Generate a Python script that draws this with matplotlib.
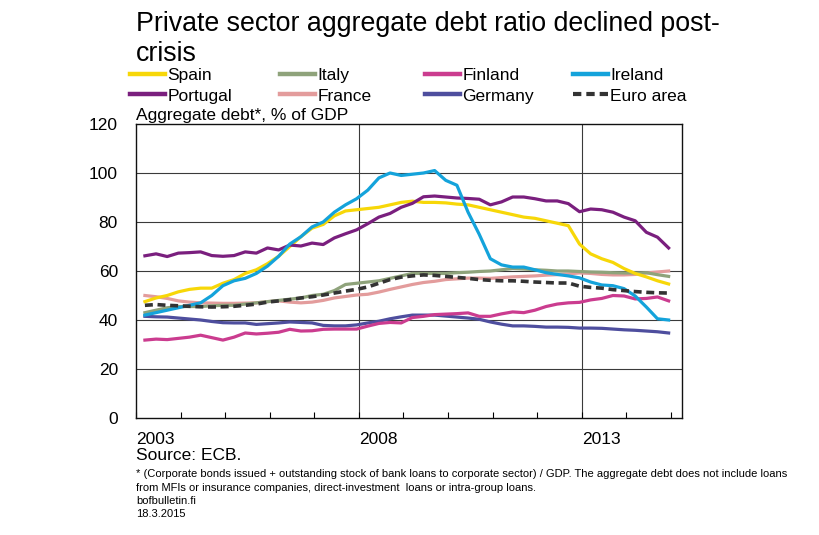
import matplotlib
matplotlib.use("Agg")
import matplotlib.pyplot as plt
from matplotlib.lines import Line2D
import numpy as np

# quarterly observations 2003Q1 .. 2014Q4 (plotted at positions within each quarter)
start_year = 2003.2
n_q = 48
x = start_year + 0.25 * np.arange(n_q)

spain = [47.5, 49, 50, 51.5, 52.5, 53, 53, 55, 56.5, 59, 60.5, 63, 66, 70, 74, 77.5,
         79, 82.5, 84.5, 85, 85.5, 86, 87, 88, 88.5, 88, 88, 87.8, 87.3, 87, 86, 85,
         84, 83, 82, 81.5, 80.5, 79.5, 78.5, 71, 67, 65, 63.5, 61, 59, 57.6, 56, 54.7]
italy = [43, 44, 45, 45.5, 45.5, 45.5, 45.8, 46, 46, 46.5, 47, 47.5, 48, 48.5, 49, 50,
         50.5, 52, 54.5, 55, 55.5, 56, 57, 58, 59, 59, 59, 59, 59.3, 59.5, 59.8, 60,
         60.5, 61, 60.8, 60.5, 60.3, 60, 60, 59.8, 59.6, 59.5, 59.3, 59.2, 59.2, 59.3, 58.5, 57.8]
finland = [31.8, 32.2, 32, 32.5, 33, 33.8, 32.8, 31.8, 33, 34.7, 34.3, 34.6, 35, 36.2, 35.5, 35.6,
           36.2, 36.3, 36.3, 36.3, 37.5, 38.6, 39, 38.8, 41, 41.5, 42.2, 42.4, 42.6, 42.9, 41.5, 41.5,
           42.5, 43.3, 43, 44, 45.5, 46.5, 47, 47.2, 48.2, 48.8, 50, 49.8, 48.6, 48.8, 49.4, 47.8]
ireland = [42, 43, 44, 45, 46, 47, 50, 54, 56, 57, 59, 62, 66, 71, 74, 78,
           80, 84, 87, 89.5, 93, 98, 100, 99, 99.5, 100, 101, 97, 95, 84, 75, 65,
           62.5, 61.6, 61.6, 60.5, 59.3, 58.6, 58, 57.2, 55.5, 54.3, 54, 52.8, 49.8, 45.3, 40.5, 40]
portugal = [66.2, 67, 65.9, 67.3, 67.5, 67.8, 66.3, 66, 66.3, 67.8, 67.3, 69.4, 68.6, 70.6, 70.2, 71.4,
            70.8, 73.5, 75.2, 76.8, 79.3, 82, 83.5, 86, 87.6, 90.3, 90.6, 90.2, 89.8, 89.6, 89.3, 87,
            88.2, 90.2, 90.2, 89.5, 88.6, 88.6, 87.5, 84.2, 85.3, 85, 84, 82, 80.5, 75.8, 73.8, 69.4]
france = [50, 49.5, 48.8, 47.8, 47.3, 47, 46.9, 46.8, 46.8, 46.9, 47, 47.5, 47.8, 47.3, 47, 47.3,
          48, 49, 49.6, 50.2, 50.5, 51.4, 52.5, 53.5, 54.5, 55.3, 55.8, 56.5, 56.8, 57.1, 57.1, 57,
          57.3, 57.6, 57.8, 58, 58.3, 58.5, 58.8, 59.2, 59, 58.6, 58.4, 58.4, 58.6, 59.2, 59.6, 60]
germany = [41.5, 41.3, 41.2, 40.8, 40.4, 40, 39.4, 38.9, 38.8, 38.8, 38.2, 38.5, 38.8, 39.2, 39, 38.8,
           37.8, 37.6, 37.6, 38, 38.8, 39.5, 40.5, 41.3, 42, 42, 42, 41.6, 41.2, 40.8, 40.3, 39.2,
           38.3, 37.6, 37.6, 37.4, 37.1, 37.1, 37, 36.7, 36.7, 36.6, 36.3, 36, 35.8, 35.5, 35.2, 34.7]
euro = [46, 46.3, 46, 45.8, 45.6, 45.4, 45.3, 45.4, 45.6, 46, 46.5, 47.3, 47.8, 48.3, 49, 49.5,
        50.2, 51, 51.8, 52.5, 53.5, 55, 56.5, 57.5, 58, 58.4, 58.2, 57.8, 57.4, 57, 56.5, 56.2,
        56, 56, 55.8, 55.5, 55.3, 55.1, 55.1, 53.8, 53.3, 53, 52.4, 52, 51.6, 51.3, 51.1, 51]

year_ticks = list(range(2003, 2016))
year_labels = ["2003", "", "", "", "", "2008", "", "", "", "", "2013", "", ""]
grid_years = [2008, 2013]
y_ticks = [0, 20, 40, 60, 80, 100, 120]

series = [
    ("Spain", spain, "#F7D708", "-"),
    ("Italy", italy, "#8FA37B", "-"),
    ("Finland", finland, "#CB3C8F", "-"),
    ("Ireland", ireland, "#14A3DB", "-"),
    ("Portugal", portugal, "#7A1F7E", "-"),
    ("France", france, "#E39C9C", "-"),
    ("Germany", germany, "#4E4E9E", "-"),
    ("Euro area", euro, "#333333", "--"),
]

plt.rcParams["font.family"] = ["Liberation Sans", "DejaVu Sans"]

fig = plt.figure(figsize=(8.2, 5.35), dpi=100)
fig.patch.set_facecolor("white")
ax = fig.add_axes([136 / 820, 117 / 535, 546 / 820, 294 / 535])

lookup = {s[0]: s for s in series}
order = ["France", "Germany", "Finland", "Italy", "Euro area", "Spain", "Portugal", "Ireland"]
for name in order:
    nm, vals, col, ls = lookup[name]
    if ls == "--":
        ax.plot(x, vals, color=col, lw=2.6, ls=(0, (2.2, 1.3)), solid_capstyle="butt", zorder=4)
    else:
        ax.plot(x, vals, color=col, lw=2.3, zorder=3)

ax.set_xlim(2003, 2015.25)
ax.set_ylim(0, 120)
ax.set_yticks(y_ticks)
ax.set_yticklabels([str(v) for v in y_ticks])
ax.set_xticks(year_ticks)
ax.set_xticklabels(year_labels, ha="left")
ax.tick_params(axis="y", length=0, pad=13, labelsize=12.5)
ax.tick_params(axis="x", direction="in", length=4, width=0.8, pad=10, labelsize=12.5)
for v in y_ticks[1:-1]:
    ax.axhline(v, color="#3a3a3a", lw=0.8, zorder=1)
for g in grid_years:
    ax.axvline(g, color="#3a3a3a", lw=0.8, zorder=1)
for sp in ax.spines.values():
    sp.set_color("#111111")
    sp.set_linewidth(1.0)

# title
fig.text(136 / 820, 1 - 11 / 535, "Private sector aggregate debt ratio declined post-\ncrisis",
         fontsize=19.3, va="top", ha="left", linespacing=1.2)

# legend in four columns
col_x = [130, 280, 425, 573]
legend_order = ["Spain", "Portugal", "Italy", "France", "Finland", "Germany", "Ireland", "Euro area"]
for c in range(4):
    names = legend_order[2 * c:2 * c + 2]
    handles = []
    for nm in names:
        _, _, col, ls = lookup[nm]
        if ls == "--":
            handles.append(Line2D([], [], color=col, lw=3.0, ls=(0, (2.0, 1.2))))
        else:
            handles.append(Line2D([], [], color=col, lw=3.2))
    fig.legend(handles, names, loc="upper left", bbox_to_anchor=(col_x[c] / 820, 1 - 68 / 535),
               frameon=False, fontsize=12.5, handlelength=2.0, handletextpad=0.15,
               labelspacing=0.3, borderpad=0, borderaxespad=0)

fig.text(136 / 820, 1 - 116 / 535, "Aggregate debt*, % of GDP", fontsize=12.5, va="center", ha="left")

fig.text(136 / 820, 1 - 456 / 535, "Source: ECB.", fontsize=12.5, va="center", ha="left")
fs_note = 8.0
fig.text(136 / 820, 1 - 474 / 535,
         "* (Corporate bonds issued + outstanding stock of bank loans to corporate sector) / GDP. "
         "The aggregate debt does not include loans",
         fontsize=fs_note, va="center", ha="left")
fig.text(136 / 820, 1 - 488 / 535,
         "from MFIs or insurance companies, direct-investment  loans or intra-group loans.",
         fontsize=fs_note, va="center", ha="left")
fig.text(136 / 820, 1 - 501 / 535, "bofbulletin.fi", fontsize=fs_note, va="center", ha="left")
fig.text(136 / 820, 1 - 514 / 535, "18.3.2015", fontsize=fs_note, va="center", ha="left")

fig.savefig("out.png", dpi=100, facecolor="white")
